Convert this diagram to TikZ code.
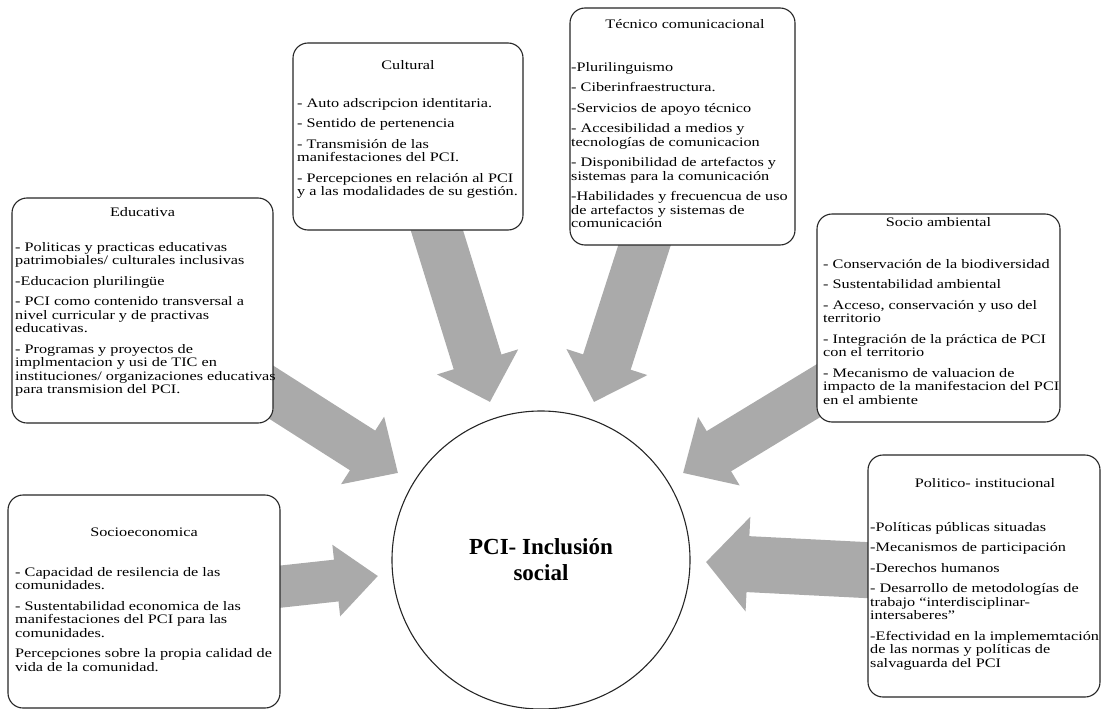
\documentclass[tikz,border=0pt]{standalone}
\usepackage{fontspec}
\setmainfont{Liberation Serif}
\newfontfamily\boxfont[FakeStretch=1.25]{Liberation Serif}
\usetikzlibrary{arrows.meta,backgrounds}
\definecolor{arrowgray}{RGB}{170,170,170}

\begin{document}
\begin{tikzpicture}[x=1pt,y=-1pt,
  dimbox/.style={draw=black!85,line width=1.1pt,rounded corners=15pt,fill=white},
  dimtitle/.style={font=\boxfont\fontsize{13}{13.5}\selectfont},
  dimlist/.style={anchor=north west,inner sep=0pt,align=left,font=\boxfont\fontsize{13}{13.5}\selectfont},
  bigarrow/.style={arrowgray,line width=#1,shorten <=-16pt,-{Triangle[length=42pt,width=0pt 1.65]}}]
  \useasboundingbox (0,0) rectangle (1105,709);

  % tips of the big arrows
  \coordinate (cul-tip) at (490,402);
  \coordinate (tec-tip) at (594,402);
  \coordinate (edu-tip) at (398,473);
  \coordinate (amb-tip) at (683,473);
  \coordinate (eco-tip) at (378,576);
  \coordinate (pol-tip) at (706,562);

  % centre
  \node[draw=black!85,line width=1.1pt,circle,minimum size=298pt,align=center,
    font=\bfseries\fontsize{23}{26}\selectfont] (pci) at (541,560) {PCI- Inclusión\\social};

  % Cultural
  \node[dimbox,minimum width=230pt,minimum height=187pt] (cultural) at (408,136.5) {};
  \node[dimtitle] (cultural-t) at (408,65) {Cultural};
  \node[dimlist] (cultural-l) at (297,98) {- Auto adscripcion identitaria.\\[7pt]
    - Sentido de pertenencia\\[7pt]
    - Transmisión de las\\manifestaciones del PCI.\\[7pt]
    - Percepciones en relación al PCI\\y a las modalidades de su gestión.};

  % Tecnico comunicacional
  \node[dimbox,minimum width=225pt,minimum height=237pt] (tecnico) at (682.5,126.5) {};
  \node[dimtitle] (tecnico-t) at (685,24) {Técnico comunicacional};
  \node[dimlist] (tecnico-l) at (571,62) {-Plurilinguismo\\[7pt]
    - Ciberinfraestructura.\\[7pt]
    -Servicios de apoyo técnico\\[7pt]
    - Accesibilidad a medios y\\tecnologías de comunicacion\\[7pt]
    - Disponibilidad de artefactos y\\sistemas para la comunicación\\[7pt]
    -Habilidades y frecuencua de uso\\de artefactos y sistemas de\\comunicación};

  % Educativa
  \node[dimbox,minimum width=261pt,minimum height=225pt] (educativa) at (142.5,310.5) {};
  \node[dimtitle] (educativa-t) at (142.5,212) {Educativa};
  \node[dimlist] (educativa-l) at (15,242) {- Politicas y practicas educativas\\patrimobiales/ culturales inclusivas\\[7pt]
    -Educacion plurilingüe\\[7pt]
    - PCI como contenido transversal a\\nivel curricular y de practivas\\educativas.\\[7pt]
    - Programas y proyectos de\\implmentacion y usi de TIC en\\instituciones/ organizaciones educativas\\para transmision del PCI.};

  % Socio ambiental
  \node[dimbox,minimum width=243pt,minimum height=208pt] (ambiental) at (938.5,318) {};
  \node[dimtitle] (ambiental-t) at (938.5,222) {Socio ambiental};
  \node[dimlist] (ambiental-l) at (823,259) {- Conservación de la biodiversidad\\[7pt]
    - Sustentabilidad ambiental\\[7pt]
    - Acceso, conservación y uso del\\territorio\\[7pt]
    - Integración de la práctica de PCI\\con el territorio\\[7pt]
    - Mecanismo de valuacion de\\impacto de la manifestacion del PCI\\en el ambiente};

  % Socioeconomica
  \node[dimbox,minimum width=272pt,minimum height=213pt] (economica) at (144,601.5) {};
  \node[dimtitle] (economica-t) at (144,532) {Socioeconomica};
  \node[dimlist] (economica-l) at (15,567) {- Capacidad de resilencia de las\\comunidades.\\[7pt]
    - Sustentabilidad economica de las\\manifestaciones del PCI para las\\comunidades.\\[7pt]
    Percepciones sobre la propia calidad de\\vida de la comunidad.};

  % Politico institucional
  \node[dimbox,minimum width=232pt,minimum height=242pt] (politico) at (984,576) {};
  \node[dimtitle] (politico-t) at (985,483) {Politico- institucional};
  \node[dimlist] (politico-l) at (870,522) {-Políticas públicas situadas\\[7pt]
    -Mecanismos de participación\\[7pt]
    -Derechos humanos\\[7pt]
    - Desarrollo de metodologías de\\trabajo “interdisciplinar-\\intersaberes”\\[7pt]
    -Efectividad en la implememtación\\de las normas y políticas de\\salvaguarda del PCI};

  % block arrows behind the boxes
  \begin{pgfonlayer}{background}
    \draw[bigarrow=50pt] (cultural) -- (cul-tip);
    \draw[bigarrow=50pt] (tecnico) -- (tec-tip);
    \draw[bigarrow=47pt] (educativa) -- (edu-tip);
    \draw[bigarrow=47pt] (ambiental) -- (amb-tip);
    \draw[bigarrow=42pt] (economica) -- (eco-tip);
    \draw[bigarrow=56pt] (politico) -- (pol-tip);
  \end{pgfonlayer}
\end{tikzpicture}
\end{document}
